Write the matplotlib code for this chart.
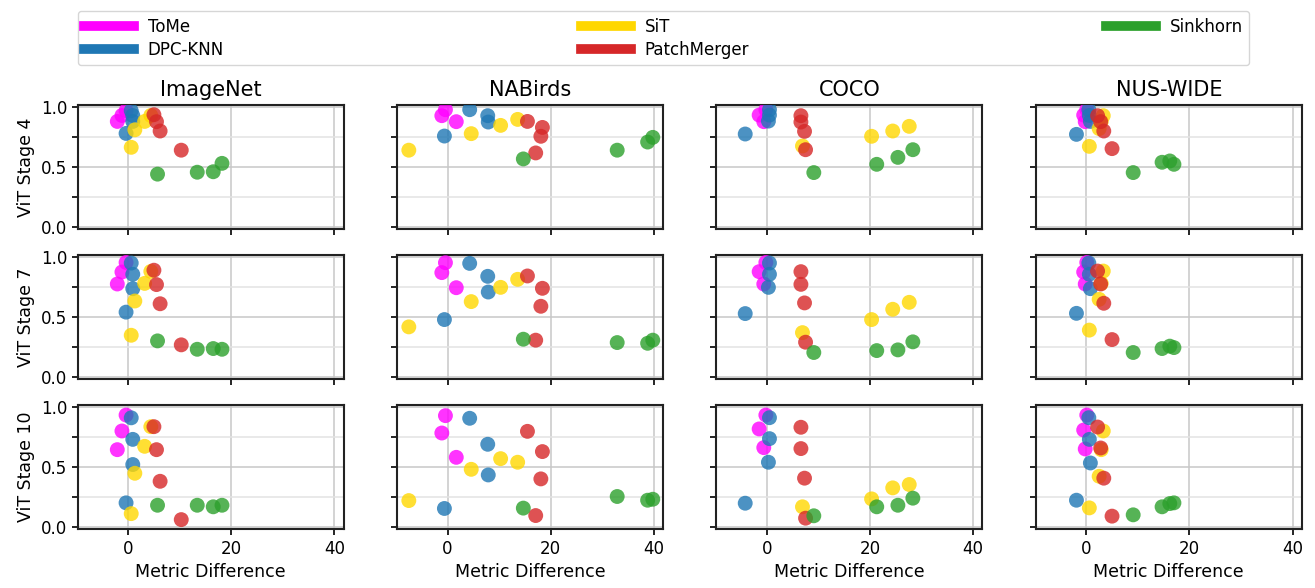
import numpy as np
import matplotlib
matplotlib.use("Agg")
import matplotlib.pyplot as plt
from matplotlib.lines import Line2D
from matplotlib.ticker import MultipleLocator

datasets = ["ImageNet", "NABirds", "COCO", "NUS-WIDE"]
stages = ["ViT Stage 4", "ViT Stage 7", "ViT Stage 10"]
methods = ["ToMe", "DPC-KNN", "SiT", "PatchMerger", "Sinkhorn"]
colors = ["#ff00ff", "#1f77b4", "#ffd700", "#d62728", "#2ca02c"]

# metric difference per dataset and method (same for every stage)
imagenet_x = {
    "ToMe": [-2.1, -1.2, -0.4],
    "DPC-KNN": [-0.4, 0.9, 0.9, 0.6],
    "SiT": [0.6, 1.3, 3.2, 4.4],
    "PatchMerger": [5.0, 5.5, 6.2, 10.3],
    "Sinkhorn": [5.7, 13.4, 16.5, 18.2],
}
nabirds_x = {
    "ToMe": [-1.1, -0.4, 1.7],
    "DPC-KNN": [-0.6, 4.3, 7.8, 7.9],
    "SiT": [-7.5, 4.6, 10.3, 13.6],
    "PatchMerger": [15.5, 18.4, 18.1, 17.1],
    "Sinkhorn": [14.7, 32.9, 38.8, 39.8],
}
coco_x = {
    "ToMe": [-1.5, -0.6, -0.2],
    "DPC-KNN": [-4.2, 0.3, 0.5, 0.5],
    "SiT": [6.9, 20.3, 24.4, 27.6],
    "PatchMerger": [6.6, 6.6, 7.3, 7.5],
    "Sinkhorn": [9.1, 21.3, 25.4, 28.3],
}
nuswide_x = {
    "ToMe": [-0.5, -0.2, 0.1],
    "DPC-KNN": [-1.9, 0.8, 0.6, 0.5],
    "SiT": [0.6, 2.5, 2.9, 3.3],
    "PatchMerger": [2.2, 2.8, 3.4, 5.0],
    "Sinkhorn": [9.1, 14.7, 16.2, 17.0],
}

# similarity values, one list per stage (4, 7, 10)
imagenet_y = {
    "ToMe": [[0.88, 0.93, 0.97], [0.775, 0.875, 0.955], [0.644, 0.80, 0.933]],
    "DPC-KNN": [[0.78, 0.88, 0.93, 0.97], [0.54, 0.736, 0.856, 0.95], [0.20, 0.52, 0.73, 0.91]],
    "SiT": [[0.664, 0.81, 0.88, 0.93], [0.347, 0.633, 0.78, 0.88], [0.11, 0.447, 0.672, 0.836]],
    "PatchMerger": [[0.936, 0.878, 0.80, 0.64], [0.89, 0.77, 0.61, 0.267], [0.836, 0.644, 0.38, 0.06]],
    "Sinkhorn": [[0.44, 0.456, 0.46, 0.53], [0.30, 0.23, 0.236, 0.23], [0.18, 0.18, 0.167, 0.18]],
}
nabirds_y = {
    "ToMe": [[0.928, 0.978, 0.878], [0.87, 0.953, 0.744], [0.783, 0.928, 0.58]],
    "DPC-KNN": [[0.758, 0.978, 0.928, 0.875], [0.478, 0.947, 0.839, 0.708], [0.153, 0.906, 0.689, 0.433]],
    "SiT": [[0.64, 0.778, 0.847, 0.897], [0.417, 0.628, 0.747, 0.814], [0.219, 0.48, 0.569, 0.539]],
    "PatchMerger": [[0.88, 0.83, 0.756, 0.617], [0.842, 0.739, 0.589, 0.306], [0.797, 0.628, 0.40, 0.094]],
    "Sinkhorn": [[0.567, 0.64, 0.708, 0.747], [0.314, 0.286, 0.28, 0.306], [0.156, 0.253, 0.222, 0.23]],
}
coco_y = {
    "ToMe": [[0.933, 0.878, 0.978], [0.878, 0.775, 0.955], [0.817, 0.661, 0.933]],
    "DPC-KNN": [[0.775, 0.883, 0.933, 0.978], [0.528, 0.747, 0.856, 0.95], [0.197, 0.539, 0.736, 0.911]],
    "SiT": [[0.675, 0.756, 0.80, 0.839], [0.369, 0.478, 0.564, 0.622], [0.167, 0.233, 0.325, 0.353]],
    "PatchMerger": [[0.928, 0.875, 0.797, 0.644], [0.878, 0.772, 0.617, 0.289], [0.831, 0.653, 0.406, 0.072]],
    "Sinkhorn": [[0.453, 0.522, 0.58, 0.644], [0.203, 0.219, 0.225, 0.292], [0.092, 0.167, 0.18, 0.239]],
}
nuswide_y = {
    "ToMe": [[0.933, 0.878, 0.978], [0.875, 0.775, 0.955], [0.808, 0.65, 0.933]],
    "DPC-KNN": [[0.772, 0.88, 0.93, 0.978], [0.53, 0.736, 0.856, 0.95], [0.222, 0.533, 0.73, 0.911]],
    "SiT": [[0.672, 0.82, 0.878, 0.928], [0.39, 0.647, 0.78, 0.883], [0.158, 0.422, 0.644, 0.80]],
    "PatchMerger": [[0.928, 0.878, 0.80, 0.653], [0.883, 0.775, 0.614, 0.311], [0.833, 0.658, 0.406, 0.089]],
    "Sinkhorn": [[0.453, 0.539, 0.55, 0.522], [0.203, 0.236, 0.256, 0.244], [0.10, 0.167, 0.194, 0.20]],
}

all_x = [imagenet_x, nabirds_x, coco_x, nuswide_x]
all_y = [imagenet_y, nabirds_y, coco_y, nuswide_y]

fig, axes = plt.subplots(3, 4, figsize=(13.15, 5.88), dpi=100, sharex=True, sharey=True)
fig.subplots_adjust(left=0.059, right=0.99, top=0.822, bottom=0.1, wspace=0.2, hspace=0.204)

for c, (name, xs, ys) in enumerate(zip(datasets, all_x, all_y)):
    for r in range(3):
        ax = axes[r, c]
        for m, col in zip(methods, colors):
            ax.scatter(xs[m], ys[m][r], s=115, color=col, alpha=0.8, edgecolors="none", zorder=3)
        ax.set_xlim(-9.8, 41.8)
        ax.set_ylim(-0.02, 1.02)
        ax.set_xticks([0, 20, 40])
        ax.set_yticks([0.0, 0.5, 1.0])
        ax.yaxis.set_minor_locator(MultipleLocator(0.25))
        ax.tick_params(which="both", labelsize=12, length=4, width=1.2)
        ax.grid(True, which="major", color="#c8c8c8", lw=1.1)
        ax.grid(True, which="minor", color="#e3e3e3", lw=1.1)
        ax.set_axisbelow(True)
        for sp in ax.spines.values():
            sp.set_linewidth(1.5)
            sp.set_color("#222222")
        if r == 0:
            ax.set_title(name, fontsize=15)
        if r == 2:
            ax.set_xlabel("Metric Difference", fontsize=12.5)
        if c == 0:
            ax.set_ylabel(stages[r], fontsize=12.5)

handles = [Line2D([0], [0], color=col, lw=7) for col in colors]
fig.legend(handles, methods, loc="lower left", bbox_to_anchor=(0.059, 0.889, 0.891, 0.106),
           ncol=3, mode="expand", fontsize=12, frameon=True, handlelength=3,
           borderaxespad=0, labelspacing=0.3, borderpad=0.4)

plt.savefig("out.png", dpi=100)
